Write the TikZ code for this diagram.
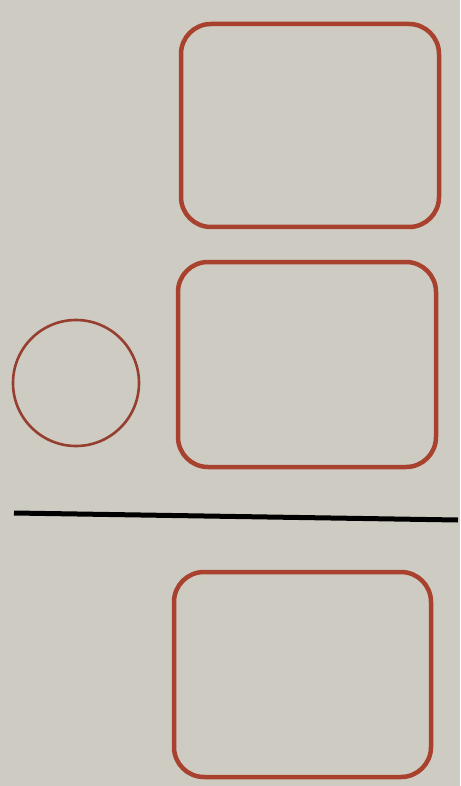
\documentclass[tikz,border=0pt]{standalone}
\definecolor{paper}{RGB}{206,204,194}
\definecolor{ink}{RGB}{168,66,46}
\definecolor{inkc}{RGB}{150,62,48}
\begin{document}
\begin{tikzpicture}[x=1pt,y=-1pt,
  boxstyle/.style={draw=ink,line width=4.5pt,rounded corners=30pt},
  circstyle/.style={draw=inkc,line width=2.6pt}]
\fill[paper] (0,0) rectangle (460,786);
\useasboundingbox (0,0) rectangle (460,786);
\draw[boxstyle] (181,24) rectangle (439,227);
\draw[boxstyle] (178,262) rectangle (436,467);
\draw[boxstyle] (174,572) rectangle (431,777);
\draw[circstyle] (76,383) circle (63);
\coordinate (la) at (14,513);
\coordinate (lb) at (458,520);
\draw[black,line width=5pt] (la) -- (lb);
\end{tikzpicture}
\end{document}
